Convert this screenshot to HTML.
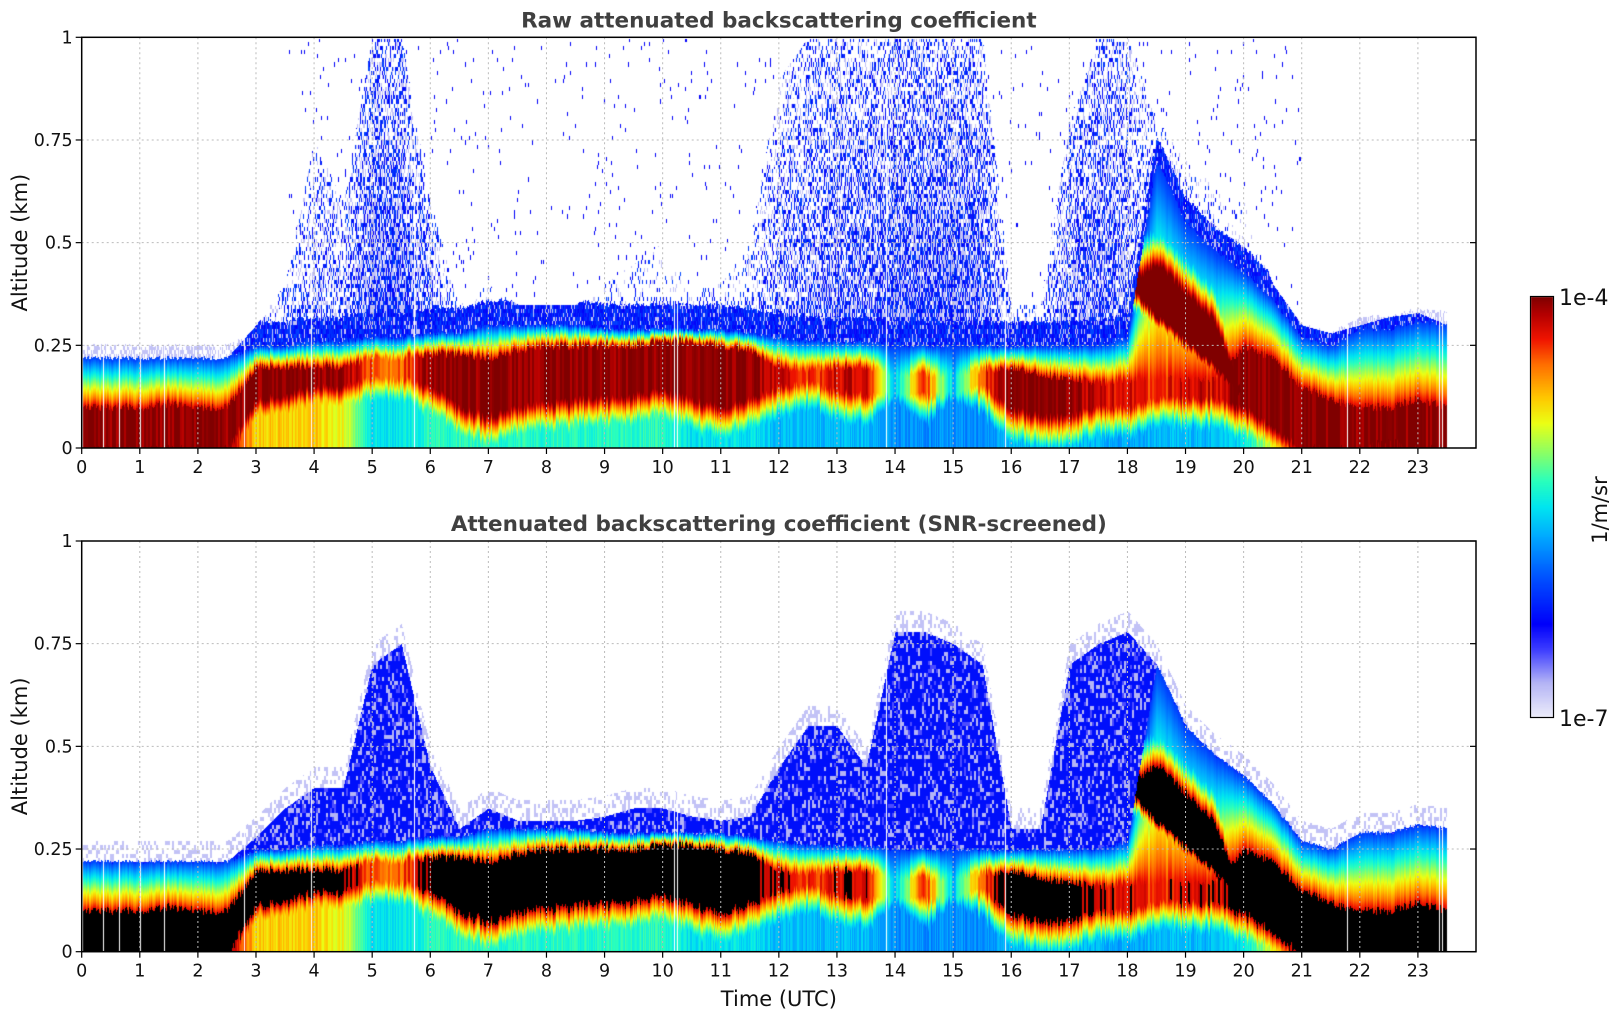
<!DOCTYPE html>
<html><head><meta charset="utf-8">
<style>
html,body{margin:0;padding:0;background:#fff;}
#wrap{position:relative;width:1621px;height:1020px;overflow:hidden;}
canvas,svg{position:absolute;left:0;top:0;}
text{font-family:"DejaVu Sans","Liberation Sans",sans-serif;fill:#111;}
</style></head><body>
<div id="wrap">
<canvas id="cv" width="1621" height="1020"></canvas>
<svg id="sv" width="1621" height="1020"></svg>
</div>
<script>
// ---- data (per 0.5 h, t = 0 .. 23.5) ----
const times = [0,0.5,1,1.5,2,2.5,3,3.5,4,4.5,5,5.5,6,6.5,7,7.5,8,8.5,9,9.5,10,10.5,11,11.5,12,12.5,13,13.5,14,14.5,15,15.5,16,16.5,17,17.5,18,18.5,19,19.5,20,20.5,21,21.5,22,22.5,23,23.5];
const layerTop = [.22,.22,.22,.22,.22,.22,.25,.25,.26,.26,.27,.27,.28,.28,.3,.3,.3,.3,.29,.29,.29,.29,.29,.28,.27,.26,.26,.26,.25,.25,.25,.25,.25,.25,.25,.25,.27,.7,.55,.48,.43,.36,.27,.25,.29,.29,.31,.3];
const coreLo = [0,0,0,0,0,0,.12,.13,.15,.15,.17,.17,.15,.1,.08,.1,.11,.12,.12,.13,.14,.12,.1,.12,.15,.16,.14,.13,.13,.13,.13,.15,.1,.08,.08,.1,.1,.12,.12,.12,.1,.05,0,0,0,.02,0,0];
const coreHi = [.1,.1,.1,.11,.1,.1,.2,.2,.2,.2,.22,.22,.23,.23,.22,.24,.25,.25,.25,.25,.26,.26,.25,.24,.2,.19,.2,.2,.18,.18,.18,.19,.2,.18,.17,.16,.17,.17,.17,.17,.25,.22,.15,.12,.1,.1,.12,.1];
const coreVal = [1,1,1,1,1,1,1,1,1,1,.85,.85,1,1,1,1,1,1,1,1,1,1,1,1,.93,.88,.93,.95,.45,.9,.45,.88,1,1,1,.93,.93,.88,.93,.93,1,1,1,1,1,1,1,1];
const plumeLo = [0,0,0,0,0,0,0,0,0,0,0,0,0,0,0,0,0,0,0,0,0,0,0,0,0,0,0,0,0,0,0,0,0,0,0,0,.4,.32,.26,.2,.12,0,0,0,0,0,0,0];
const plumeHi = [0,0,0,0,0,0,0,0,0,0,0,0,0,0,0,0,0,0,0,0,0,0,0,0,0,0,0,0,0,0,0,0,0,0,0,0,.4,.45,.38,.31,.12,0,0,0,0,0,0,0];
const baseVal = [1,1,1,1,1,1,.75,.75,.75,.7,.5,.5,.55,.55,.55,.55,.55,.55,.55,.55,.55,.5,.5,.5,.45,.45,.45,.45,.4,.4,.4,.4,.45,.45,.45,.45,.42,.45,.45,.45,.5,.7,1,1,1,1,1,1];
const noiseTop = [.22,.22,.22,.22,.22,.22,.3,.4,.75,.6,1,1,.6,.35,.4,.35,.35,.35,.4,.45,.5,.4,.4,.5,.9,1,1,1,1,1,1,1,.35,.35,.8,1,1,.8,.7,.65,.6,.4,.3,.28,.3,.32,.33,.3];
const noiseDen = [0,0,0,0,0,0,.2,.3,.35,.35,.6,.6,.4,.15,.2,.15,.15,.15,.15,.15,.15,.15,.2,.25,.35,.45,.5,.5,.6,.6,.6,.55,.3,.3,.5,.55,.45,.2,.15,.1,.1,.05,.05,.05,.1,.1,.1,.1];
const screenTop = [.22,.22,.22,.22,.22,.22,.28,.35,.4,.4,.7,.75,.45,.3,.35,.32,.32,.32,.33,.35,.35,.33,.32,.33,.45,.55,.55,.45,.78,.78,.75,.7,.3,.3,.7,.75,.78,.7,.55,.48,.43,.36,.27,.25,.29,.29,.31,.3];
const gapTimes = [.36,.65,1.0,1.42,2.8,3.95,5.72,10.2,10.25,13.85,15.9,21.78,23.36,23.42];
const xTicks = [0,1,2,3,4,5,6,7,8,9,10,11,12,13,14,15,16,17,18,19,20,21,22,23];
const yTicks = [0,0.25,0.5,0.75,1];
const yTickLabels = ["0","0.25","0.5","0.75","1"];

// ---- axes ----
const X0=81.7, X1=1476, PH=410.7;
const panels=[{top:37.3,bot:448,title:"Raw attenuated backscattering coefficient",screen:false},
              {top:541,bot:951.7,title:"Attenuated backscattering coefficient (SNR-screened)",screen:true}];
function xs(t){return X0+t*(X1-X0)/24;}
function ys(p,h){return p.bot-h*PH;}

const stops=[[0,[236,236,250]],[0.08,[180,180,245]],[0.16,[60,60,255]],[0.22,[0,0,250]],[0.33,[0,80,255]],[0.43,[0,170,255]],[0.5,[0,230,240]],[0.56,[40,255,190]],[0.63,[140,255,100]],[0.7,[235,255,20]],[0.76,[255,200,0]],[0.84,[255,110,0]],[0.9,[240,20,0]],[0.96,[180,0,0]],[1,[128,0,0]]];
function cmap(v){v=Math.max(0,Math.min(1,v));for(let i=1;i<stops.length;i++){if(v<=stops[i][0]){const a=stops[i-1],b=stops[i],f=(v-a[0])/(b[0]-a[0]);return [0,1,2].map(k=>Math.round(a[1][k]+(b[1][k]-a[1][k])*f));}}return stops[stops.length-1][1];}
function hash(a,b){let h=(a*374761393+b*668265263)|0;h=(h^(h>>>13))*1274126177|0;return ((h^(h>>>16))>>>0)/4294967296;}
function interp(arr,t){const f=t/0.5;const i=Math.min(Math.floor(f),arr.length-2);const r=f-i;return arr[i]*(1-r)+arr[i+1]*r;}

function value(t,h,col,screen){
  const j=(hash(col,7)-0.5)*0.02;
  const top=interp(layerTop,t)+j*0.5, lo=interp(coreLo,t)+j, hi=interp(coreHi,t)+j;
  const cvv=interp(coreVal,t)+(hash(col>>1,11)-0.5)*0.1;
  const pl=interp(plumeLo,t)+j, ph=interp(plumeHi,t)+j, base=interp(baseVal,t)+(hash(col,3)-0.5)*0.08;
  let v=-1;
  if(h<top){
    if(hi-lo>0.006){
      if(h<lo){v=Math.max(base,cvv-(lo-h)/0.05*0.35);}
      else if(h<=hi)v=cvv;
      else v=Math.min(cvv,0.92)-(h-hi)/Math.max(top-hi,0.01)*(Math.min(cvv,0.92)-0.3);
    } else v=base-(h/top)*(base-0.3);
    if(ph-pl>0.006){
      if(h>=pl&&h<=ph)v=Math.max(v,1);
      else if(h>ph)v=Math.max(v,1-(h-ph)/0.1*0.7);
      else v=Math.max(v,1-(pl-h)/0.04*0.5);
    }
  } else {
    const r=Math.floor(h*100);
    if(!screen){
      const nt=interp(noiseTop,t), den=interp(noiseDen,t);
      if(h<nt){const rel=(h-top)/Math.max(nt-top,0.01);
        let p=den*(1-0.6*rel); if(h-top<0.06)p=Math.max(p,den>0?0.85:0);
        const q=hash(col>>1,r*3+(col&1));
        if(q<p)v=0.2+hash(col,r)*0.12; else if(q<p*1.7)v=0.06;}
      else if(h<top+0.03&&hash(col,r)<0.5)v=0.06;
      else if(t>3.5&&t<21&&hash(col,r*7+1)<0.012)v=0.22;
    } else {
      const st=interp(screenTop,t);
      if(h<st){const q=hash(col>>1,r);v=q<0.2?0.08:(q<0.3?0.15:0.24);}
      else if(h<st+0.05&&hash(col>>1,r)<0.35)v=0.06;
    }
  }
  return v;
}

const cv=document.getElementById('cv'),ctx=cv.getContext('2d');
const img=ctx.createImageData(1621,1020),D=img.data;
const xEnd=xs(23.5);
const gapPx=gapTimes.map(xs).map(Math.round);
panels.forEach(p=>{
  for(let px=Math.ceil(X0)+1;px<xEnd;px++){
    if(gapPx.indexOf(px)>=0)continue;
    const t=(px-X0)/(X1-X0)*24;
    for(let py=Math.ceil(p.top)+1;py<p.bot;py++){
      const h=(p.bot-py)/PH;
      const v=value(t,h,px,p.screen);
      if(v<0)continue;
      let c=(p.screen&&v>=0.95)?[0,0,0]:cmap(v);
      const k=(py*1621+px)*4;D[k]=c[0];D[k+1]=c[1];D[k+2]=c[2];D[k+3]=255;
    }
  }
});
// colorbar
for(let py=297;py<=716;py++){const v=1-(py-297)/419;const c=cmap(v);for(let px=1531;px<1553;px++){const k=(py*1621+px)*4;D[k]=c[0];D[k+1]=c[1];D[k+2]=c[2];D[k+3]=255;}}
ctx.putImageData(img,0,0);


// ---- svg overlay ----
const NS="http://www.w3.org/2000/svg",sv=document.getElementById('sv');
function mk(tag,attrs,txt){const e=document.createElementNS(NS,tag);for(const k in attrs)e.setAttribute(k,attrs[k]);if(txt!==undefined)e.textContent=txt;sv.appendChild(e);return e;}
panels.forEach((p,pi)=>{
  const pre=pi===0?'raw':'screened';
  xTicks.forEach(t=>{if(t===0)return;const g=mk('line',{x1:xs(t),x2:xs(t),y1:p.top,y2:p.bot,stroke:'#bbb','stroke-width':1,'stroke-dasharray':'2,3'});
    
    });
  yTicks.forEach(v=>{if(v===0||v===1)return;const g=mk('line',{x1:X0,x2:X1,y1:ys(p,v),y2:ys(p,v),stroke:'#bbb','stroke-width':1,'stroke-dasharray':'2,3'});
    
    });
  const fr=mk('rect',{x:X0,y:p.top,width:X1-X0,height:p.bot-p.top,fill:'none',stroke:'#000','stroke-width':1.5});
  
  
  xTicks.forEach(t=>{
    const tk=mk('line',{x1:xs(t),x2:xs(t),y1:p.bot,y2:p.bot+6,stroke:'#000','stroke-width':1.2});
    
    
    const tl=mk('text',{x:xs(t),y:p.bot+25,'text-anchor':'middle','font-size':17.5},String(t));
    
    
  });
  yTicks.forEach((v,i)=>{
    const tk=mk('line',{x1:X0-6,x2:X0,y1:ys(p,v),y2:ys(p,v),stroke:'#000','stroke-width':1.2});
    
    
    const tr=mk('line',{x1:X1-6,x2:X1,y1:ys(p,v),y2:ys(p,v),stroke:'#000','stroke-width':1.2});
    
    
    const tl=mk('text',{x:X0-9,y:ys(p,v)+6,'text-anchor':'end','font-size':17.5},yTickLabels[i]);
    
    
  });
  const ti=mk('text',{x:(X0+X1)/2,y:p.top-10,'text-anchor':'middle','font-size':21.5,'font-weight':'bold',style:'fill:#404040'},p.title);
  
  
  const cy=(p.top+p.bot)/2;
  const yl=mk('text',{x:27,y:cy,'text-anchor':'middle','font-size':21,transform:'rotate(-90 27 '+cy+')'},'Altitude (km)');
  
  
});
const xl=mk('text',{x:(X0+X1)/2,y:1006,'text-anchor':'middle','font-size':21},'Time (UTC)');


const cb=mk('rect',{x:1530.5,y:296.5,width:23,height:421,fill:'none',stroke:'#000','stroke-width':1.2});


const c1=mk('text',{x:1559,y:305,'font-size':22},'1e-4');


const c2=mk('text',{x:1559,y:726,'font-size':22},'1e-7');


const cu=mk('text',{x:1607,y:510,'text-anchor':'middle','font-size':21,transform:'rotate(-90 1607 510)'},'1/m/sr');


</script>
</body></html>
